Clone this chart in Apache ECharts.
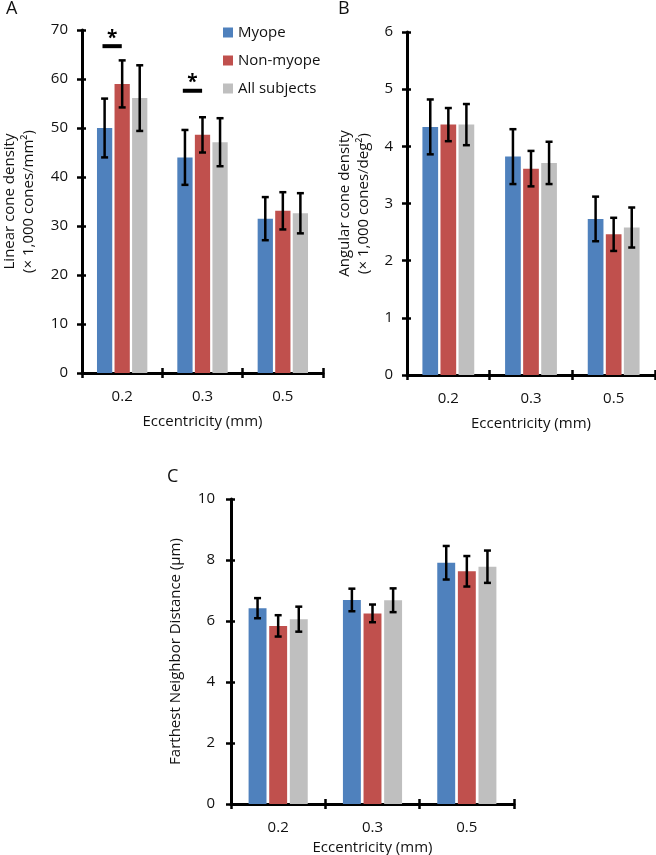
<!DOCTYPE html>
<html>
<head>
<meta charset="utf-8">
<script src="https://cdn.jsdelivr.net/npm/echarts@6/dist/echarts.min.js"></script>
<style>html,body{margin:0;padding:0;background:#fff;}#c{width:656px;height:855px;}</style>
</head>
<body>
<div id="c"></div>
<script>
// ---- data ----
const categories = ['0.2', '0.3', '0.5'];
const seriesNames = ['Myope', 'Non-myope', 'All subjects'];

const A_myope = [50.0, 44.0, 31.5];
const A_myopeErr = [6.0, 5.6, 4.4];
const A_non = [59.0, 48.6, 33.1];
const A_nonErr = [4.8, 3.6, 3.8];
const A_all = [56.1, 47.1, 32.6];
const A_allErr = [6.7, 4.9, 4.1];

const B_myope = [4.34, 3.82, 2.73];
const B_myopeErr = [0.48, 0.48, 0.39];
const B_non = [4.38, 3.61, 2.46];
const B_nonErr = [0.29, 0.31, 0.29];
const B_all = [4.38, 3.71, 2.58];
const B_allErr = [0.36, 0.37, 0.35];

const C_myope = [6.42, 6.69, 7.91];
const C_myopeErr = [0.33, 0.37, 0.55];
const C_non = [5.84, 6.25, 7.63];
const C_nonErr = [0.35, 0.29, 0.50];
const C_all = [6.06, 6.68, 7.78];
const C_allErr = [0.41, 0.39, 0.53];

const sigCats = [0, 1];
const sigY = [66.7, 57.6];

const A_ticks = {min: 0, max: 70, interval: 10};
const B_ticks = {min: 0, max: 6, interval: 1};
const C_ticks = {min: 0, max: 10, interval: 2};

// ---- styling ----
const colors = ['#4F81BD', '#C0504D', '#BFBFBF'];
const FONT = 'Open Sans';
const FS = 15;
const TXT = '#111';
const BW = 0.19, BG = 0.15;

const panels = [
  {means: [A_myope, A_non, A_all], errs: [A_myopeErr, A_nonErr, A_allErr], ticks: A_ticks,
   grid: {left: 82, top: 30, width: 241, height: 343, outerBoundsMode: 'none', containLabel: false},
   yName: 'Linear cone density\n(× 1,000 cones/mm²)', yGap: 44, xGap: 41, yMargin: 14},
  {means: [B_myope, B_non, B_all], errs: [B_myopeErr, B_nonErr, B_allErr], ticks: B_ticks,
   grid: {left: 407, top: 32, width: 248, height: 343, outerBoundsMode: 'none', containLabel: false},
   yName: 'Angular cone density\n(× 1,000 cones/deg²)', yGap: 34, xGap: 41, yMargin: 14},
  {means: [C_myope, C_non, C_all], errs: [C_myopeErr, C_nonErr, C_allErr], ticks: C_ticks,
   grid: {left: 231, top: 499, width: 283, height: 305, outerBoundsMode: 'none', containLabel: false},
   yName: 'Farthest Neighbor Distance (µm)', yGap: 46, xGap: 36, yMargin: 16}
];

const grids = [], xAxes = [], yAxes = [], series = [];
const axisLineStyle = {color: '#000', width: 3};
const tickStyle = {color: '#000', width: 2.5};

panels.forEach((p, gi) => {
  grids.push(p.grid);
  xAxes.push({
    type: 'category', gridIndex: gi, data: categories,
    name: 'Eccentricity (mm)', nameLocation: 'middle', nameGap: p.xGap,
    nameTextStyle: {fontFamily: FONT, fontSize: FS, color: TXT},
    axisLine: {lineStyle: axisLineStyle},
    axisTick: {show: true, length: 5, lineStyle: tickStyle},
    axisLabel: {fontFamily: FONT, fontSize: FS, color: TXT, margin: 16},
    splitLine: {show: false}
  });
  yAxes.push({
    type: 'value', gridIndex: gi, min: p.ticks.min, max: p.ticks.max, interval: p.ticks.interval,
    name: p.yName, nameLocation: 'middle', nameRotate: 90, nameGap: p.yGap,
    nameTextStyle: {fontFamily: FONT, fontSize: FS, color: TXT, lineHeight: 19},
    axisLine: {show: true, lineStyle: axisLineStyle},
    axisTick: {show: true, length: 5, lineStyle: tickStyle},
    axisLabel: {fontFamily: FONT, fontSize: FS, color: TXT, margin: p.yMargin},
    splitLine: {show: false}
  });
});
// duplicate axes for inward ticks
panels.forEach((p, gi) => {
  xAxes.push({
    type: 'category', gridIndex: gi, data: categories, position: 'bottom',
    axisLine: {show: false}, axisLabel: {show: false},
    axisTick: {show: true, inside: true, length: 5, lineStyle: tickStyle}, splitLine: {show: false}
  });
  yAxes.push({
    type: 'value', gridIndex: gi, position: 'left', min: p.ticks.min, max: p.ticks.max, interval: p.ticks.interval,
    axisLine: {show: false}, axisLabel: {show: false},
    axisTick: {show: true, inside: true, length: 4, lineStyle: tickStyle}, splitLine: {show: false}
  });
});

panels.forEach((p, gi) => {
  p.means.forEach((m, si) => {
    series.push({
      type: 'bar', name: seriesNames[si], xAxisIndex: gi, yAxisIndex: gi,
      data: m, barWidth: (BW * 100) + '%', barGap: (BG * 100) + '%',
      itemStyle: {color: colors[si]}, z: 2
    });
  });
  const errData = [];
  p.means.forEach((m, si) => {
    m.forEach((v, ci) => errData.push([ci, si, v - p.errs[si][ci], v + p.errs[si][ci]]));
  });
  series.push({
    type: 'custom', xAxisIndex: gi, yAxisIndex: gi, data: errData, z: 5,
    encode: {x: 0, y: [2, 3]}, silent: true,
    renderItem: function (params, api) {
      const ci = api.value(0), si = api.value(1);
      const lo = api.coord([ci, api.value(2)]);
      const hi = api.coord([ci, api.value(3)]);
      const band = api.size([1, 0])[0];
      const x = lo[0] + (si - 1) * band * BW * (1 + BG);
      const cap = 3.5;
      const st = {stroke: '#000', lineWidth: 2.5};
      return {type: 'group', children: [
        {type: 'line', shape: {x1: x, y1: lo[1], x2: x, y2: hi[1]}, style: st},
        {type: 'line', shape: {x1: x - cap, y1: hi[1], x2: x + cap, y2: hi[1]}, style: st},
        {type: 'line', shape: {x1: x - cap, y1: lo[1], x2: x + cap, y2: lo[1]}, style: st}
      ]};
    }
  });
});

// significance markers on panel A
series.push({
  type: 'custom', xAxisIndex: 0, yAxisIndex: 0, z: 6, silent: true,
  data: sigCats.map((c, i) => [c, sigY[i]]),
  renderItem: function (params, api) {
    const p = api.coord([api.value(0), api.value(1)]);
    const band = api.size([1, 0])[0];
    const x1 = p[0] - 0.245 * band, x2 = p[0] - 0.005 * band;
    return {type: 'group', children: [
      {type: 'line', shape: {x1: x1, y1: p[1], x2: x2, y2: p[1]}, style: {stroke: '#000', lineWidth: 4}},
      {type: 'text', style: {text: '*', x: (x1 + x2) / 2, y: p[1] - 8, align: 'center', verticalAlign: 'middle',
        font: 'bold 19px "' + FONT + '"', fill: '#000'}}
    ]};
  }
});

const option = {
  animation: false,
  backgroundColor: '#fff',
  grid: grids, xAxis: xAxes, yAxis: yAxes, series: series,
  legend: {
    data: seriesNames, orient: 'vertical', left: 218, top: 20,
    itemWidth: 10, itemHeight: 10, itemGap: 13, icon: 'rect',
    textStyle: {fontFamily: FONT, fontSize: FS, color: TXT}
  },
  graphic: [
    {type: 'text', left: 6, top: 0, style: {text: 'A', font: '18px "' + FONT + '"', fill: TXT}},
    {type: 'text', left: 338, top: 0, style: {text: 'B', font: '18px "' + FONT + '"', fill: TXT}},
    {type: 'text', left: 167, top: 468, style: {text: 'C', font: '18px "' + FONT + '"', fill: TXT}}
  ]
};

const chart = echarts.init(document.getElementById('c'), null, {renderer: 'canvas'});
chart.setOption(option);
</script>
</body>
</html>
